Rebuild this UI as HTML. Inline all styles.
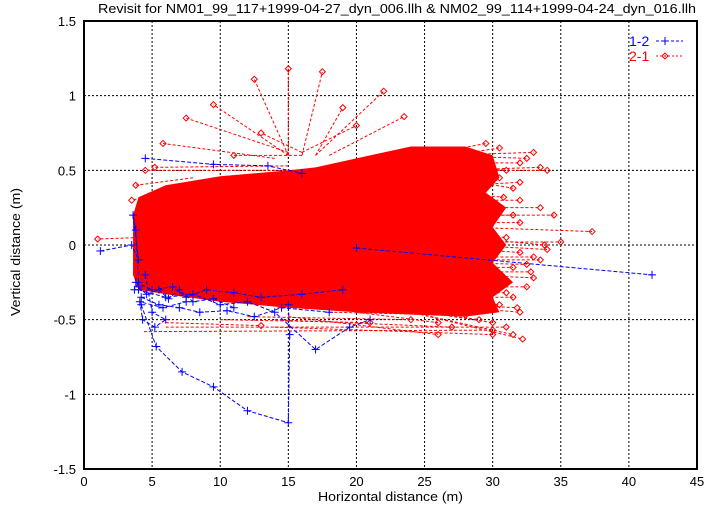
<!DOCTYPE html>
<html><head><meta charset="utf-8"><style>
body{margin:0;background:#fff;}
svg text{font-family:"Liberation Sans",sans-serif;}
</style></head><body>
<svg id="chart" width="721" height="505" xmlns="http://www.w3.org/2000/svg">
<text x="98" y="13" font-size="13" textLength="598" lengthAdjust="spacingAndGlyphs">Revisit for NM01_99_117+1999-04-27_dyn_006.llh &amp; NM02_99_114+1999-04-24_dyn_016.llh</text>
<g id="grid"></g>
<g id="marks"></g>
<g id="axes"></g>
<text x="318" y="501" font-size="13" textLength="145" lengthAdjust="spacingAndGlyphs">Horizontal distance (m)</text>
<text transform="translate(20,316) rotate(-90)" font-size="13" textLength="128" lengthAdjust="spacingAndGlyphs">Vertical distance (m)</text>
<g>
<text x="629" y="46" font-size="14" fill="#0000ff">1-2</text>
<line x1="656" y1="41" x2="683" y2="41" stroke="#0000ff" stroke-dasharray="3,2"/>
<path d="M661,41h8M665,37v8" stroke="#0000ff"/>
<text x="629" y="61" font-size="14" fill="#ff0000">2-1</text>
<line x1="656" y1="56" x2="683" y2="56" stroke="#ff0000" stroke-dasharray="2,2"/>
<path d="M665,53l3,3l-3,3l-3,-3z" stroke="#ff0000" fill="none"/>
</g>
</svg>
<script>
const xTicks=[0,5,10,15,20,25,30,35,40,45];
const yTicks=[-1.5,-1,-0.5,0,0.5,1,1.5];
const yTickLabels=["-1.5","-1","-0.5","0","0.5","1","1.5"];
// red mass envelope [x,y]
const redUpper=[[3.6,0.2],[4,0.32],[6,0.4],[10,0.46],[15,0.5],[17,0.52],[20,0.58],[24,0.66],[28,0.66],[30,0.6],[30.5,0.45],[29.5,0.35],[31,0.25],[30,0.12]];
const redLower=[[31,0.0],[30,-0.12],[31.5,-0.25],[30,-0.35],[30.5,-0.45],[28,-0.48],[25,-0.47],[20,-0.45],[15,-0.42],[10,-0.38],[6,-0.33],[4,-0.3],[3.6,-0.2]];
// red segments [x1,y1,x2,y2]
const redSegs=[
[15,0.6,15,1.18],[16,0.6,17.5,1.16],[17,0.6,22,1.03],[15,0.6,12.5,1.11],[15,0.6,9.5,0.94],[18,0.6,23.5,0.86],[15,0.62,7.5,0.85],[14,0.58,5.8,0.68],[17,0.6,19,0.92],[16,0.6,11,0.6],
[17,0.5,4.5,0.5],[15,0.53,5.2,0.52],[8,0.45,3.8,0.4],[6,0.35,3.5,0.3],[4,0.05,1,0.04],
[26,0.6,33,0.62],[26,0.6,32.5,0.58],[27,0.5,33.5,0.52],[27,0.5,34,0.5],[27,0.6,30.5,0.65],[28,0.55,32,0.55],[28,0.45,30.5,0.45],[28,0.4,32,0.42],
[28,0.25,33.5,0.25],[28,0.12,37.3,0.09],[28,0.02,35,0.02],[28,0,34,-0.03],[28,0.05,33.8,0],[28,-0.08,33,-0.08],[28,-0.12,32.5,-0.13],[28,0.2,31.5,0.2],[28,0.3,32,0.3],
[28,-0.18,32.8,-0.18],[28,-0.2,33,-0.22],[28,-0.28,32.5,-0.28],[28,-0.35,31.5,-0.35],[28,-0.4,30.5,-0.4],[25,-0.45,29,-0.5],[25,-0.45,30,-0.52],[24,-0.45,31.5,-0.6],[24,-0.45,32.2,-0.63],[28,-0.42,32,-0.45],
[4.4,-0.58,30,-0.57],[6,-0.55,31,-0.55],[10,-0.5,21,-0.52],[12,-0.48,24,-0.5],[14,-0.5,27,-0.55],[18,-0.45,28,-0.47],[15,-0.48,26,-0.6],[14,-0.55,30,-0.6],[20,-0.45,26,-0.52],[6,-0.52,13,-0.54],
[27,0.55,31,0.5],[27,0.45,31.5,0.38],[27,0.35,30.8,0.32],[27,0.15,32,0.15],[27,0.08,31,0.05],[27,-0.02,32,-0.05],[27,-0.15,31.5,-0.15],[27,-0.25,30.5,-0.28],[27,-0.32,31,-0.32],[27,-0.4,31.8,-0.42],[26,0.62,29.5,0.68],[27,0.2,34.5,0.2],[27,-0.1,33.5,-0.1],
[16,0.62,20,0.8],[16,0.62,13,0.75]
];
// blue paths, each a list of [x,y]
const bluePaths=[
[[4.5,0.58],[9.5,0.54],[13.5,0.53],[16,0.48]],
[[1.2,-0.04],[3.5,0.0],[4.0,-0.1],[3.6,0.2],[3.8,0.1],[4,-0.25],[3.7,-0.3]],
[[4.2,-0.4],[5.3,-0.68],[7.2,-0.85],[9.5,-0.95],[12,-1.11],[15,-1.19],[15.1,-0.6],[15,-0.4]],
[[4,-0.3],[6,-0.35],[8,-0.33],[10,-0.4],[12,-0.38],[14,-0.45],[17,-0.7],[19.5,-0.55],[21,-0.5]],
[[3.8,-0.25],[5,-0.3],[6.5,-0.28],[7.5,-0.35],[9,-0.3],[11,-0.32],[13,-0.35],[16,-0.33],[19,-0.3]],
[[4.2,-0.35],[5.5,-0.4],[7,-0.42],[8.5,-0.45],[10.5,-0.44],[12.5,-0.48],[14.5,-0.42],[18,-0.45]],
[[4.5,-0.2],[5,-0.45],[6,-0.5],[5.2,-0.55],[4.3,-0.5],[4.1,-0.38],[5.8,-0.42],[7.5,-0.38]],
[[4,-0.28],[4.6,-0.33],[5.5,-0.3],[6.2,-0.36],[7,-0.3],[8,-0.38],[9.5,-0.36],[11,-0.42]],
[[20,-0.02],[41.7,-0.2]]
];
const X0=84,X1=697,Y0=469,Y1=21;
function sx(v){return X0+(v-0)/(45-0)*(X1-X0);}
function sy(v){return Y0-(v+1.5)/3*(Y0-Y1);}
const NS="http://www.w3.org/2000/svg";
function mk(tag,attrs,parent){const e=document.createElementNS(NS,tag);for(const k in attrs)e.setAttribute(k,attrs[k]);parent.appendChild(e);return e;}
const grid=document.getElementById('grid'),marks=document.getElementById('marks'),axes=document.getElementById('axes');
xTicks.forEach((t,i)=>{
  if(i>0&&i<xTicks.length-1){const l=mk('line',{x1:sx(t),x2:sx(t),y1:Y1,y2:Y0,stroke:'#000','stroke-dasharray':'2,2'},grid);
  
  }
  const tx=mk('text',{x:sx(t),y:Y0+17,'font-size':13,'text-anchor':'middle'},axes);tx.textContent=t;
  
  
});
yTicks.forEach((t,i)=>{
  if(i>0&&i<yTicks.length-1){const l=mk('line',{x1:X0,x2:X1,y1:sy(t),y2:sy(t),stroke:'#000','stroke-dasharray':'2,2'},grid);
  
  }
  const tx=mk('text',{x:X0-8,y:sy(t)+5,'font-size':13,'text-anchor':'end'},axes);tx.textContent=yTickLabels[i];
  
  
});
const fr=mk('rect',{x:X0,y:Y1,width:X1-X0,height:Y0-Y1,fill:'none',stroke:'#000','stroke-width':2},axes);


const pts=redUpper.concat(redLower).map(p=>sx(p[0])+','+sy(p[1])).join(' ');
const mass=mk('polygon',{points:pts,fill:'#ff0000'},marks);


redSegs.forEach(s=>{
  const l=mk('line',{x1:sx(s[0]),y1:sy(s[1]),x2:sx(s[2]),y2:sy(s[3]),stroke:'#ff0000','stroke-dasharray':'3,2'},marks);
  
  
  const x=sx(s[2]),y=sy(s[3]);
  const d=mk('path',{d:`M${x},${y-3}l3,3l-3,3l-3,-3z`,stroke:'#ff0000',fill:'none'},marks);
  
  
});
bluePaths.forEach(p=>{
  const pl=mk('polyline',{points:p.map(q=>sx(q[0])+','+sy(q[1])).join(' '),fill:'none',stroke:'#0000ff','stroke-dasharray':'4,2'},marks);
  
  
  p.forEach(q=>{
    const x=sx(q[0]),y=sy(q[1]);
    const c=mk('path',{d:`M${x-4},${y}h8M${x},${y-4}v8`,stroke:'#0000ff'},marks);
    
    
  });
});
</script>
</body></html>
